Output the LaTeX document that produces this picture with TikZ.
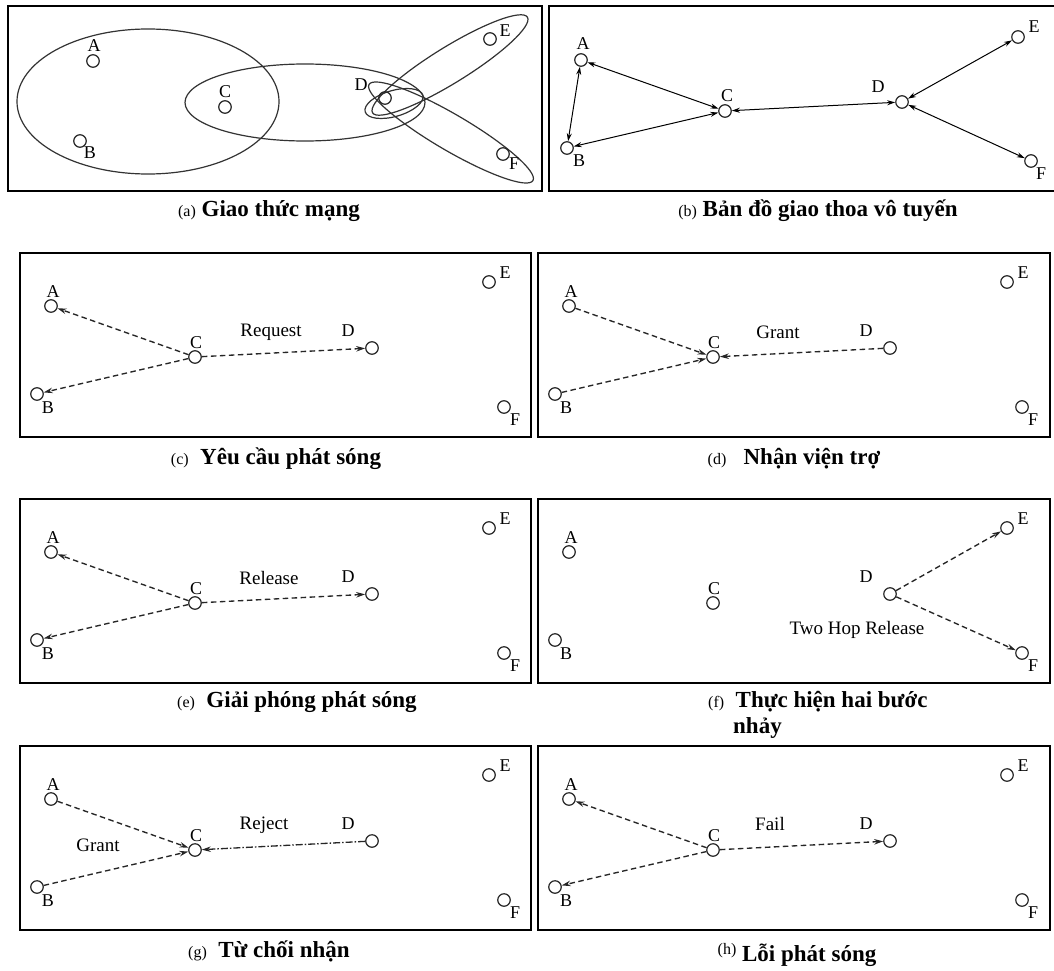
\documentclass[tikz,border=0pt]{standalone}
\usepackage{fontspec}
\setmainfont{Liberation Serif}
\usetikzlibrary{arrows.meta}
\newcommand\sixlayout{%
  \node[pt] (A) at (31,53) {};
  \node[pt] (B) at (17,141) {};
  \node[pt] (C) at (175,104) {};
  \node[pt] (D) at (352,95) {};
  \node[pt] (E) at (469,29) {};
  \node[pt] (F) at (484,154) {};
  \node[lbl] (lA) at (33,39) {A};
  \node[lbl] (lB) at (28,155) {B};
  \node[lbl] (lC) at (176,90) {C};
  \node[lbl] (lD) at (328,78) {D};
  \node[lbl] (lE) at (485,20) {E};
  \node[lbl] (lF) at (495,167) {F};
}
\begin{document}
\begin{tikzpicture}[x=1pt,y=-1pt,
  pt/.style={circle,draw=black!85,line width=1.2pt,minimum size=12.5pt,inner sep=0pt},
  lbl/.style={font=\fontsize{18}{18}\selectfont,inner sep=0pt},
  msg/.style={font=\fontsize{19}{19}\selectfont,inner sep=0pt},
  frame/.style={line width=2.7pt},
  ell/.style={draw=black!80,line width=1.2pt},
  dsh/.style={dash pattern=on 5.5pt off 3.5pt, line width=1.35pt, draw=black!85,
     -{Stealth[length=9pt,width=5.5pt]}},
  dshdot/.style={dash pattern=on 7pt off 2pt on 1.5pt off 2pt, line width=1.3pt, draw=black!85,
     -{Stealth[length=9pt,width=5.5pt]}},
  sol/.style={line width=1pt,
     {Stealth[length=8pt,width=5pt]}-{Stealth[length=8pt,width=5pt]}},
  captxt/.style={anchor=base, inner sep=0pt, font=\fontsize{23}{23}\selectfont\bfseries},
]
\useasboundingbox (0,0) rectangle (1054,971);
\fill[white] (0,0) rectangle (1054,971);
\newcommand\tagf[1]{{\fontsize{16}{16}\selectfont\mdseries(#1)}}

% ---------- (a) ----------
\draw[frame] (8,6) rectangle (542,191);
\draw[ell] (148,101.5) ellipse [x radius=131, y radius=72.5];
\draw[ell] (305,102.5) ellipse [x radius=120, y radius=38.5];
\draw[ell, rotate around={16:(394,103.5)}] (394,103.5) ellipse [x radius=30, y radius=13];
\draw[ell, rotate around={31.7:(450,65)}] (450,65) ellipse [x radius=91, y radius=18];
\draw[ell, rotate around={-30.4:(451,132.5)}] (451,132.5) ellipse [x radius=95, y radius=18];
\begin{scope}[name prefix=a]
  \node[pt] (A) at (93,61) {};
  \node[pt] (B) at (80,141) {};
  \node[pt] (C) at (225,107) {};
  \node[pt] (D) at (385,98) {};
  \node[pt] (E) at (490,39) {};
  \node[pt] (F) at (503,154) {};
  \node[lbl] (lA) at (94,46) {A};
  \node[lbl] (lB) at (90,153) {B};
  \node[lbl] (lC) at (225,92) {C};
  \node[lbl] (lD) at (361,85) {D};
  \node[lbl] (lE) at (505,31) {E};
  \node[lbl] (lF) at (514,164) {F};
\end{scope}
\node[captxt] (capa) at (269,216) {\tagf{a} Giao thức mạng};

% ---------- (b) ----------
\draw[frame] (549,6) rectangle (1057,191);
\begin{scope}[name prefix=b]
  \node[pt] (A) at (581,60) {};
  \node[pt] (B) at (567,148) {};
  \node[pt] (C) at (725,111) {};
  \node[pt] (D) at (902,102) {};
  \node[pt] (E) at (1018,37) {};
  \node[pt] (F) at (1031,161) {};
  \node[lbl] (lA) at (583,44) {A};
  \node[lbl] (lB) at (579,161) {B};
  \node[lbl] (lC) at (727,96) {C};
  \node[lbl] (lD) at (878,87) {D};
  \node[lbl] (lE) at (1034,27) {E};
  \node[lbl] (lF) at (1041,174) {F};
  \draw[sol] (A) -- (B);
  \draw[sol] (A) -- (C);
  \draw[sol] (B) -- (C);
  \draw[sol] (C) -- (D);
  \draw[sol] (D) -- (E);
  \draw[sol] (D) -- (F);
\end{scope}
\node[captxt] (capb) at (818,216) {\tagf{b} Bản đồ giao thoa vô tuyến};

% ---------- (c) ----------
\begin{scope}[shift={(20,253)},name prefix=c]
  \draw[frame] (0,0) rectangle (511,184);
  \sixlayout
  \draw[dsh] (C) -- (A);
  \draw[dsh] (C) -- (B);
  \draw[dsh] (C) -- (D);
  \node[msg] (m) at (251,79) {Request};
\end{scope}
\node[captxt] (capc) at (276,464) {\tagf{c}\ \ Yêu cầu phát sóng};

% ---------- (d) ----------
\begin{scope}[shift={(538,253)},name prefix=d]
  \draw[frame] (0,0) rectangle (512,184);
  \sixlayout
  \draw[dsh] (A) -- (C);
  \draw[dsh] (B) -- (C);
  \draw[dsh] (D) -- (C);
  \node[msg] (m) at (240,79) {Grant};
\end{scope}
\node[captxt] (capd) at (794,464) {\tagf{d}\ \ \ Nhận viện trợ};

% ---------- (e) ----------
\begin{scope}[shift={(20,499)},name prefix=e]
  \draw[frame] (0,0) rectangle (511,184);
  \sixlayout
  \draw[dsh] (C) -- (A);
  \draw[dsh] (C) -- (B);
  \draw[dsh] (C) -- (D);
  \node[msg] (m) at (249,79) {Release};
\end{scope}
\node[captxt] (cape) at (297,707) {\tagf{e}\ \ Giải phóng phát sóng};

% ---------- (f) ----------
\begin{scope}[shift={(538,499)},name prefix=f]
  \draw[frame] (0,0) rectangle (512,184);
  \sixlayout
  \draw[dsh] (D) -- (E);
  \draw[dsh] (D) -- (F);
  \node[msg] (m) at (319,131) {Two Hop Release};
\end{scope}
\node[captxt, anchor=base west] (capf) at (708,707) {\tagf{f}\ \ Thực hiện hai bước};
\node[captxt, anchor=base west] (capf2) at (733,733) {nhảy};

% ---------- (g) ----------
\begin{scope}[shift={(20,746)},name prefix=g]
  \draw[frame] (0,0) rectangle (511,184);
  \sixlayout
  \draw[dsh] (A) -- (C);
  \draw[dsh] (B) -- (C);
  \draw[dshdot] (D) -- (C);
  \node[msg] (m) at (244,79) {Reject};
  \node[msg] (m2) at (78,99) {Grant};
\end{scope}
\node[captxt] (capg) at (269,957) {\tagf{g}\ \ Từ chối nhận};

% ---------- (h) ----------
\begin{scope}[shift={(538,746)},name prefix=h]
  \draw[frame] (0,0) rectangle (512,184);
  \sixlayout
  \draw[dsh] (C) -- (A);
  \draw[dsh] (C) -- (B);
  \draw[dsh] (C) -- (D);
  \node[msg] (m) at (232,78) {Fail};
\end{scope}
\node[captxt] (caph) at (797,961) {\raisebox{7pt}{\tagf{h}} Lỗi phát sóng};
\end{tikzpicture}
\end{document}
